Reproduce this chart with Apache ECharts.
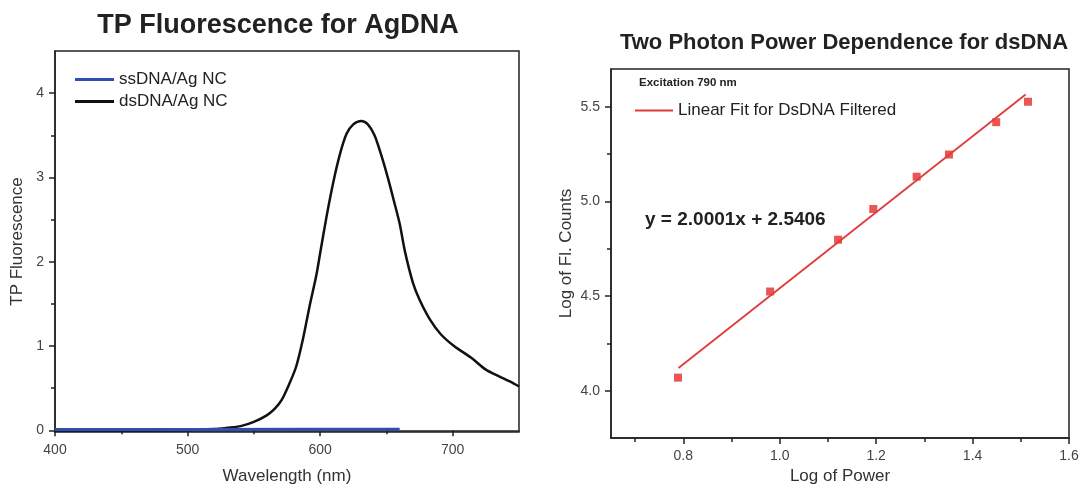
<html>
<head>
<meta charset="utf-8">
<title>TP Fluorescence / Two Photon Power Dependence</title>
<script src="https://cdn.jsdelivr.net/npm/echarts@6/dist/echarts.min.js"></script>
</head>
<body>
<style>
    html, body, #main {
        width: 100%;
        height: 100%;
        margin: 0;
        background: #fff;
    }
</style>
<div id="main"></div>

<script>

// left panel: TP fluorescence spectra
let wavelength = [400, 450, 500, 520, 530, 540, 550, 560, 566, 571, 577, 582, 587, 592, 597,
    600, 605, 610, 615, 620, 625, 631, 636, 641, 646, 651, 656, 660, 664, 670, 675, 683, 691,
    701, 714, 725, 735, 743, 750];
let dsDNA = [0, 0, 0.005, 0.015, 0.03, 0.05, 0.1, 0.18, 0.26, 0.36, 0.56, 0.76, 1.08, 1.47, 1.83,
    2.1, 2.55, 2.95, 3.28, 3.52, 3.63, 3.67, 3.63, 3.5, 3.27, 3.0, 2.7, 2.45, 2.12, 1.75, 1.55, 1.31, 1.14,
    1.0, 0.86, 0.72, 0.64, 0.58, 0.52];
let ssWavelength = [400, 500, 600, 660];
let ssDNA = [0.01, 0.01, 0.012, 0.012];

let wlLabels = [400, 500, 600, 700];
let wlMinor = [450, 550, 650];
let flLabels = [0, 1, 2, 3, 4];
let flMinor = [0.5, 1.5, 2.5, 3.5];

// right panel: power dependence
let logPower = [0.789, 0.98, 1.121, 1.194, 1.284, 1.351, 1.449, 1.515];
let logCounts = [4.069, 4.524, 4.798, 4.96, 5.131, 5.248, 5.419, 5.527];
let fitX = [0.79, 1.51];
let fitY = [4.12, 5.565];

let powLabels = [0.8, 1.0, 1.2, 1.4, 1.6];
let powMinor = [0.7, 0.9, 1.1, 1.3, 1.5];
let cntLabels = [4.0, 4.5, 5.0, 5.5];
let cntMinor = [4.25, 4.75, 5.25];

function pairs(xs, ys) {
    return xs.map(function (x, i) { return [x, ys[i]]; });
}

var axisColor = '#222';
var labelStyle = { fontSize: 14, color: '#444' };
var nameStyle = { fontSize: 17, color: '#333' };

function mainAxis(grid, min, max, labels, name, gap, pos, fmt) {
    return {
        type: 'value', gridIndex: grid, min: min, max: max, position: pos,
        name: name, nameLocation: 'middle', nameGap: gap, nameTextStyle: nameStyle,
        axisLine: { show: true, lineStyle: { color: axisColor, width: 1.5 } },
        axisTick: { show: true, customValues: labels, length: 6, lineStyle: { color: axisColor, width: 1.5 } },
        axisLabel: Object.assign({ customValues: labels, margin: 11, formatter: fmt }, labelStyle),
        splitLine: { show: false }
    };
}

function minorAxis(grid, min, max, ticks, pos) {
    return {
        type: 'value', gridIndex: grid, min: min, max: max, position: pos,
        axisLine: { show: false },
        axisTick: { show: true, customValues: ticks, length: 4, lineStyle: { color: axisColor, width: 1.5 } },
        axisLabel: { show: false },
        splitLine: { show: false }
    };
}

function oneDecimal(v) { return v.toFixed(1); }

var myChart = echarts.init(document.getElementById('main'));

option = {
    animation: false,
    textStyle: { fontFamily: 'Liberation Sans, Arial, sans-serif' },
    grid: [
        { left: 55, right: 563, top: 51, bottom: 58, show: true, borderColor: axisColor, borderWidth: 1.5 },
        { left: 611, right: 13, top: 69, bottom: 46, show: true, borderColor: axisColor, borderWidth: 1.5 }
    ],
    xAxis: [
        mainAxis(0, 400, 750, wlLabels, 'Wavelength (nm)', 36, 'bottom'),
        minorAxis(0, 400, 750, wlMinor, 'bottom'),
        mainAxis(1, 0.65, 1.6, powLabels, 'Log of Power', 30, 'bottom', oneDecimal),
        minorAxis(1, 0.65, 1.6, powMinor, 'bottom')
    ],
    yAxis: [
        mainAxis(0, -0.02, 4.5, flLabels, 'TP Fluorescence', 29, 'left'),
        minorAxis(0, -0.02, 4.5, flMinor, 'left'),
        mainAxis(1, 3.75, 5.7, cntLabels, 'Log of Fl. Counts', 36, 'left', oneDecimal),
        minorAxis(1, 3.75, 5.7, cntMinor, 'left')
    ],
    legend: [
        {
            left: 75, top: 71, orient: 'vertical', padding: 0,
            itemWidth: 39, itemHeight: 3, itemGap: 5, icon: 'rect',
            textStyle: { fontSize: 17, color: '#222' },
            data: ['ssDNA/Ag NC', 'dsDNA/Ag NC']
        },
        {
            left: 635, top: 102, padding: 0,
            itemWidth: 38, itemHeight: 2, icon: 'rect',
            textStyle: { fontSize: 17, color: '#222' },
            data: ['Linear Fit for DsDNA Filtered']
        }
    ],
    graphic: [
        {
            type: 'text', x: 278, y: 26,
            style: { text: 'TP Fluorescence for AgDNA', font: 'bold 27px Liberation Sans', fill: '#222',
                     textAlign: 'center', textVerticalAlign: 'middle' }
        },
        {
            type: 'text', x: 844, y: 43,
            style: { text: 'Two Photon Power Dependence for dsDNA', font: 'bold 22px Liberation Sans', fill: '#222',
                     textAlign: 'center', textVerticalAlign: 'middle' }
        },
        {
            type: 'text', x: 639, y: 83,
            style: { text: 'Excitation 790 nm', font: 'bold 11.5px Liberation Sans', fill: '#222',
                     textVerticalAlign: 'middle' }
        },
        {
            type: 'text', x: 645, y: 220,
            style: { text: 'y = 2.0001x + 2.5406', font: 'bold 19px Liberation Sans', fill: '#222',
                     textVerticalAlign: 'middle' }
        }
    ],
    series: [
        {
            name: 'dsDNA/Ag NC', type: 'line', xAxisIndex: 0, yAxisIndex: 0,
            showSymbol: false, smooth: 0.3,
            itemStyle: { color: '#111' },
            lineStyle: { color: '#111', width: 2.5 },
            data: pairs(wavelength, dsDNA)
        },
        {
            name: 'ssDNA/Ag NC', type: 'line', xAxisIndex: 0, yAxisIndex: 0,
            showSymbol: false,
            itemStyle: { color: '#2f4fb0' },
            lineStyle: { color: '#2f4fb0', width: 3 },
            data: pairs(ssWavelength, ssDNA)
        },
        {
            name: 'Linear Fit for DsDNA Filtered', type: 'line', xAxisIndex: 2, yAxisIndex: 2,
            showSymbol: false,
            itemStyle: { color: '#e03a3a' },
            lineStyle: { color: '#e03a3a', width: 1.8 },
            data: pairs(fitX, fitY)
        },
        {
            name: 'DsDNA Filtered', type: 'scatter', xAxisIndex: 2, yAxisIndex: 2,
            symbol: 'rect', symbolSize: 8,
            itemStyle: { color: '#e52b2b' },
            data: pairs(logPower, logCounts)
        }
    ]
};
myChart.setOption(option);

</script>
</body>
</html>
